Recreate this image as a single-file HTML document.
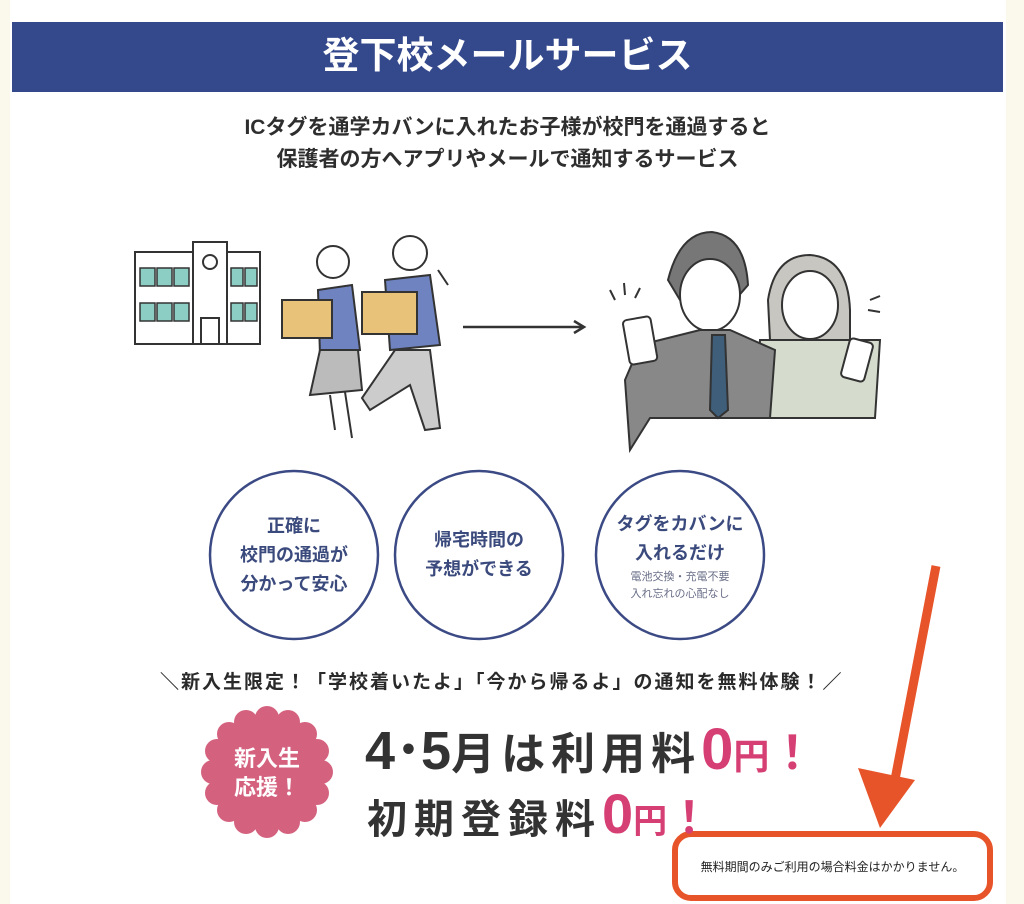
<!DOCTYPE html>
<html><head><meta charset="utf-8">
<style>
html,body{margin:0;padding:0}
body{width:1024px;height:904px;background:#fbf9ec;position:relative;overflow:hidden;font-family:"Liberation Sans","Noto Sans CJK JP",sans-serif}
.paper{position:absolute;left:10px;top:0;width:996px;height:904px;background:#fff}
.t{position:absolute;white-space:nowrap}
</style></head><body>
<div class="paper"></div>
<div style="position:absolute;left:12px;top:22px;width:991px;height:70px;background:#34488c"></div>
<div class="t" style="left:12px;width:991px;top:30px;text-align:center;color:#fff;font-size:37px;font-weight:bold;line-height:52px">登下校メールサービス</div>
<div class="t" style="left:12px;width:991px;top:112px;text-align:center;color:#2e2e2e;font-size:21px;font-weight:bold;line-height:32px">ICタグを通学カバンに入れたお子様が校門を通過すると<br>保護者の方へアプリやメールで通知するサービス</div>

<svg style="position:absolute;left:0;top:0" width="1024" height="904">
<g stroke="#333" stroke-width="2" fill="#fff">
<rect x="135" y="252" width="125" height="92"/>
<rect x="193" y="242" width="34" height="102"/>
<circle cx="210" cy="262" r="7"/>
<rect x="201" y="318" width="18" height="26"/>
</g>
<g fill="#8ccdc4" stroke="#333" stroke-width="1.5">
<rect x="140" y="268" width="15" height="18"/><rect x="157" y="268" width="15" height="18"/><rect x="174" y="268" width="15" height="18"/>
<rect x="231" y="268" width="12" height="18"/><rect x="245" y="268" width="12" height="18"/>
<rect x="140" y="303" width="15" height="18"/><rect x="157" y="303" width="15" height="18"/><rect x="174" y="303" width="15" height="18"/>
<rect x="231" y="303" width="12" height="18"/><rect x="245" y="303" width="12" height="18"/>
</g>
<g stroke="#333" stroke-width="2">
<circle cx="333" cy="262" r="16" fill="#fff"/>
<circle cx="410" cy="253" r="17" fill="#fff"/>
<path d="M318 290 L352 285 L360 350 L320 355 Z" fill="#6f83c0"/>
<rect x="282" y="300" width="50" height="38" fill="#e9c27a"/>
<path d="M320 350 L358 350 L362 390 L310 395 Z" fill="#bbb"/>
<path d="M330 395 L335 430 M345 392 L352 438" fill="none"/>
<path d="M385 280 L430 275 L440 345 L390 350 Z" fill="#6f83c0"/>
<rect x="362" y="292" width="55" height="42" fill="#e9c27a"/>
<path d="M395 350 L430 350 L440 428 L425 430 L410 385 L370 410 L362 398 Z" fill="#ccc"/>
<path d="M438 270 L448 285" fill="none"/>
</g>
<line x1="463" y1="327" x2="582" y2="327" stroke="#333" stroke-width="2.5"/>
<path d="M574 321 L584 327 L574 333" fill="none" stroke="#333" stroke-width="2.5"/>
<g stroke="#333" stroke-width="2">
<path d="M768 300 Q775 255 810 255 Q848 258 850 310 L850 340 L770 340 Z" fill="#c8c6c0"/>
<ellipse cx="810" cy="305" rx="28" ry="34" fill="#fff"/>
<path d="M760 340 L880 340 L875 418 L755 418 Z" fill="#d5dccd"/>
<path d="M668 280 Q680 232 712 232 Q745 236 748 285 L735 300 L680 300 Z" fill="#777"/>
<ellipse cx="710" cy="295" rx="30" ry="36" fill="#fff"/>
<path d="M640 345 L700 330 L730 330 L775 350 L770 418 L650 418 L630 450 L625 380 Z" fill="#888"/>
<path d="M712 335 L725 335 L728 410 L718 418 L710 410 Z" fill="#3e5e7a"/>
<rect x="626" y="318" width="28" height="45" rx="4" fill="#fff" transform="rotate(-10 640 340)"/>
<rect x="845" y="340" width="24" height="40" rx="4" fill="#fff" transform="rotate(15 857 360)"/>
<path d="M615 300 L610 290 M625 295 L624 283 M635 298 L640 288 M870 300 L880 296 M868 310 L880 312" fill="none"/>
</g>
<g fill="#fff" stroke="#3b4a84" stroke-width="2.5">
<circle cx="294" cy="555" r="84"/>
<circle cx="479" cy="555" r="84"/>
<circle cx="680" cy="555" r="84"/>
</g>
<g fill="#d4627f">
<circle cx="267" cy="772" r="58"/>
<circle cx="267" cy="718" r="12"/><circle cx="267" cy="826" r="12"/><circle cx="213" cy="772" r="12"/><circle cx="321" cy="772" r="12"/>
<circle cx="229" cy="734" r="12"/><circle cx="305" cy="734" r="12"/><circle cx="229" cy="810" r="12"/><circle cx="305" cy="810" r="12"/>
<circle cx="246" cy="722" r="12"/><circle cx="288" cy="722" r="12"/><circle cx="246" cy="822" r="12"/><circle cx="288" cy="822" r="12"/>
<circle cx="217" cy="751" r="12"/><circle cx="317" cy="751" r="12"/><circle cx="217" cy="793" r="12"/><circle cx="317" cy="793" r="12"/>
</g>
<line x1="936" y1="566" x2="893" y2="790" stroke="#e8542a" stroke-width="9"/>
<path d="M858 768 L915 780 L880 828 Z" fill="#e8542a"/>
<rect x="675" y="834" width="315" height="64" rx="16" fill="#fff" stroke="#e8542a" stroke-width="6"/>
</svg>

<div class="t" style="left:210px;width:168px;top:512px;text-align:center;color:#3b4a7d;font-size:18px;font-weight:bold;line-height:29px">正確に<br>校門の通過が<br>分かって安心</div>
<div class="t" style="left:395px;width:168px;top:526px;text-align:center;color:#3b4a7d;font-size:18px;font-weight:bold;line-height:29px">帰宅時間の<br>予想ができる</div>
<div class="t" style="left:596px;width:168px;top:510px;text-align:center;color:#3b4a7d;font-size:18px;font-weight:bold;line-height:29px">タグをカバンに<br>入れるだけ</div>
<div class="t" style="left:596px;width:168px;top:569px;text-align:center;color:#6a6f88;font-size:11px;line-height:17px">電池交換・充電不要<br>入れ忘れの心配なし</div>

<div class="t" style="left:160px;top:669px;color:#2a2a2a;font-size:19px;font-weight:bold;line-height:28px;letter-spacing:2px">＼新入生限定！「学校着いたよ」「今から帰るよ」の通知を無料体験！／</div>

<div class="t" style="left:226px;width:82px;top:744px;text-align:center;color:#fff;font-size:22px;font-weight:bold;line-height:29px">新入生<br>応援！</div>

<div class="t" style="left:365px;top:718px;color:#333;font-weight:bold;line-height:64px"><span style="font-size:54px">4</span><span style="font-size:54px;display:inline-block;width:26px;text-align:center">･</span><span style="font-size:54px">5</span><span style="font-size:44px;letter-spacing:6px">月は利用料</span><span style="font-size:58px;color:#d63f73">0</span><span style="font-size:36px;color:#d63f73">円</span><span style="font-size:46px;color:#d63f73">！</span></div>
<div class="t" style="left:367px;top:784px;color:#333;font-weight:bold;line-height:60px"><span style="font-size:40px;letter-spacing:7px">初期登録料</span><span style="font-size:56px;color:#d63f73">0</span><span style="font-size:34px;color:#d63f73">円</span><span style="font-size:44px;color:#d63f73">！</span></div>

<div class="t" style="left:675px;width:315px;top:858px;text-align:center;color:#222;font-size:12px;line-height:18px">無料期間のみご利用の場合料金はかかりません。</div>
</body></html>
